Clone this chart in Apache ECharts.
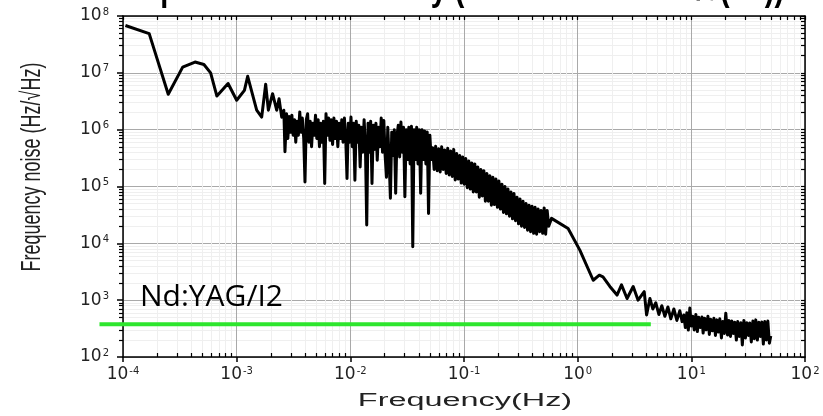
<!DOCTYPE html>
<html>
<head>
<meta charset="utf-8">
<script src="https://cdn.jsdelivr.net/npm/echarts/dist/echarts.min.js"></script>
<style>
  html, body { margin: 0; padding: 0; background: #fff; }
  #main { width: 823px; height: 416px; }
</style>
</head>
<body>
<div id="main"></div>
<script>
// frequency (Hz) and noise (Hz/sqrt(Hz))
var freq = [
  // low end, smooth
  1.05e-4, 1.7e-4, 2.5e-4, 3.35e-4, 4.3e-4, 5.15e-4, 5.9e-4, 6.7e-4, 8.4e-4, 1.0e-3,
  1.17e-3, 1.25e-3, 1.5e-3, 1.66e-3, 1.8e-3, 1.9e-3, 2.07e-3, 2.25e-3, 2.36e-3, 2.49e-3,
  2.6e-3, 2.66e-3,
  // dense noisy part
  2.75e-3, 2.82e-3, 2.90e-3, 2.98e-3, 3.06e-3, 3.14e-3, 3.23e-3, 3.31e-3, 3.40e-3, 3.49e-3,
  3.59e-3, 3.68e-3, 3.78e-3, 3.89e-3, 3.99e-3, 4.10e-3, 4.21e-3, 4.32e-3, 4.44e-3, 4.56e-3,
  4.68e-3, 4.81e-3, 4.94e-3, 5.07e-3, 5.21e-3, 5.35e-3, 5.49e-3, 5.64e-3, 5.79e-3, 5.95e-3,
  6.11e-3, 6.27e-3, 6.44e-3, 6.62e-3, 6.79e-3, 6.98e-3, 7.17e-3, 7.36e-3, 7.56e-3, 7.76e-3,
  7.97e-3, 8.18e-3, 8.41e-3, 8.63e-3, 8.87e-3, 9.11e-3, 9.35e-3, 9.60e-3, 9.86e-3,
  1.013e-2, 1.04e-2, 1.068e-2, 1.097e-2, 1.127e-2, 1.157e-2, 1.188e-2, 1.22e-2, 1.253e-2, 1.287e-2,
  1.322e-2, 1.358e-2, 1.394e-2, 1.432e-2, 1.47e-2, 1.51e-2, 1.551e-2, 1.593e-2, 1.636e-2, 1.68e-2,
  1.725e-2, 1.772e-2, 1.82e-2, 1.869e-2, 1.919e-2, 1.971e-2, 2.024e-2, 2.079e-2, 2.135e-2, 2.193e-2,
  2.252e-2, 2.313e-2, 2.375e-2, 2.439e-2, 2.505e-2, 2.573e-2, 2.642e-2, 2.714e-2, 2.787e-2, 2.862e-2,
  2.939e-2, 3.019e-2, 3.1e-2, 3.184e-2, 3.27e-2, 3.358e-2, 3.449e-2, 3.542e-2, 3.637e-2, 3.735e-2,
  3.836e-2, 3.94e-2, 4.046e-2, 4.155e-2, 4.267e-2, 4.382e-2, 4.501e-2, 4.622e-2, 4.747e-2, 4.875e-2,
  5.006e-2, 5.141e-2,
  // thick descending band
  5.30e-2, 5.46e-2, 5.63e-2, 5.81e-2, 5.99e-2, 6.17e-2, 6.36e-2, 6.56e-2, 6.76e-2, 6.97e-2,
  7.19e-2, 7.41e-2, 7.64e-2, 7.88e-2, 8.12e-2, 8.37e-2, 8.63e-2, 8.90e-2, 9.18e-2, 9.46e-2,
  9.75e-2, 0.1005, 0.1036, 0.1069, 0.1102, 0.1136, 0.1171, 0.1207, 0.1245, 0.1283,
  0.1323, 0.1364, 0.1407, 0.145, 0.1495, 0.1542, 0.1589, 0.1639, 0.1689, 0.1742,
  0.1796, 0.1851, 0.1909, 0.1968, 0.2029, 0.2092, 0.2157, 0.2224, 0.2293, 0.2364,
  0.2437, 0.2513, 0.2591, 0.2671, 0.2754, 0.2839, 0.2927, 0.3018, 0.3112, 0.3208,
  0.3308, 0.341, 0.3516, 0.3625, 0.3737, 0.3853, 0.3973, 0.4096, 0.4223, 0.4354,
  0.4489, 0.4628, 0.4771, 0.4919, 0.5072, 0.5229, 0.5391, 0.5558,
  // roll-off around 1 Hz
  0.589, 0.824, 1.045, 1.37, 1.55, 1.67, 1.92, 2.22, 2.43, 2.72,
  3.08, 3.4, 3.85, 4.04, 4.32, 4.58, 4.87, 5.18, 5.5, 5.85,
  6.22, 6.6, 7.02, 7.46, 7.92, 8.3,
  // high-frequency floor
  8.59, 8.86, 9.13, 9.41, 9.70, 10.0, 10.3, 10.6, 10.96, 11.3,
  11.6, 12.0, 12.4, 12.7, 13.1, 13.5, 14.0, 14.4, 14.8, 15.3,
  15.8, 16.3, 16.8, 17.3, 17.8, 18.4, 18.9, 19.5, 20.1, 20.8,
  21.4, 22.1, 22.7, 23.4, 24.1, 24.9, 25.6, 26.4, 27.3, 28.1,
  29.0, 29.9, 30.8, 31.8, 32.7, 33.7, 34.8, 35.8, 36.9, 38.1,
  39.3, 40.5, 41.7, 43.0, 44.3, 45.7, 47.1, 48.6, 50.0
];
var noise = [
  6.8e7, 4.9e7, 4.2e6, 1.26e7, 1.55e7, 1.4e7, 1.0e7, 3.9e6, 6.5e6, 3.3e6,
  4.9e6, 8.7e6, 2.2e6, 1.66e6, 6.3e6, 2.2e6, 4.3e6, 2.2e6, 3.5e6, 1.66e6,
  2.2e6, 4.1e5,

  1.9e6, 7e5, 1.7e6, 9e5, 1.8e6, 8e5, 1.5e6, 6e5, 1.4e6, 8e5,
  2.05e6, 9e5, 1.6e6, 7e5, 1.2e5, 1.5e6, 1.9e6, 6e5, 1.4e6, 5e5,
  1.3e6, 8e5, 1.8e6, 7e5, 1.5e6, 5e5, 1.3e6, 6e5, 1.4e6, 1.13e5,
  1.9e6, 8e5, 1.6e6, 6.5e5, 1.5e6, 5.5e5, 1.6e6, 7e5, 1.4e6, 5e5,
  1.3e6, 7e5, 1.5e6, 6e5, 1.6e6, 7e5, 1.38e5, 1.3e6, 6e5,
  1.67e6, 5e5, 1.3e6, 1.29e5, 1.4e6, 6e5, 1.2e6, 2.2e5, 1.1e6, 4e5,
  1.5e6, 5e5, 2.1e4, 1.3e6, 4e5, 1.4e6, 1.13e5, 1.2e6, 4.5e5, 1.3e6,
  2.9e5, 1.1e6, 5e5, 1.6e6, 4e5, 1.45e6, 3.5e5, 1.45e5, 1.1e6, 3e5,
  6.2e4, 9e5, 3.5e5, 1.0e6, 7.6e4, 8e5, 1.2e6, 3.3e5, 1.36e6, 4e5,
  1.1e6, 6.6e4, 1.0e6, 3e5, 1.1e6, 2.5e5, 1.15e6, 8.7e3, 1.0e6, 3e5,
  1.1e6, 2.5e5, 1.0e6, 7.6e4, 1.0e6, 3e5, 9.5e5, 2.5e5, 9.1e5, 3.35e4,
  8e5, 3e5,

  4.8e5, 2.0e5, 5.1e5, 1.9e5, 4.6e5, 1.8e5, 5.0e5, 2.0e5, 4.4e5, 1.7e5,
  4.7e5, 1.6e5, 4.2e5, 1.5e5, 4.5e5, 1.3e5, 3.8e5, 1.35e5, 3.5e5, 1.15e5,
  3.3e5, 1.1e5, 3.1e5, 9.5e4, 2.8e5, 9.0e4, 2.6e5, 8.0e4, 2.5e5, 8.0e4,
  2.2e5, 6.5e4, 2.0e5, 6.8e4, 1.9e5, 5.5e4, 1.7e5, 5.5e4, 1.55e5, 4.7e4,
  1.45e5, 4.8e4, 1.35e5, 4.3e4, 1.25e5, 4.0e4, 1.1e5, 3.5e4, 1.0e5, 3.3e4,
  9.0e4, 3.0e4, 8.0e4, 2.7e4, 7.5e4, 2.5e4, 6.5e4, 2.2e4, 6.0e4, 2.0e4,
  5.5e4, 1.9e4, 5.0e4, 1.7e4, 4.7e4, 1.6e4, 4.5e4, 1.5e4, 4.3e4, 1.45e4,
  4.0e4, 1.6e4, 3.8e4, 1.5e4, 4.2e4, 1.45e4, 3.8e4, 2.0e4,

  2.75e4, 1.82e4, 7.6e3, 2.24e3, 2.75e3, 2.57e3, 1.74e3, 1.23e3, 1.86e3, 1.07e3,
  1.74e3, 1.0e3, 1.41e3, 550, 1070, 700, 900, 560, 800, 520,
  760, 470, 700, 440, 650, 420,

  547, 330, 600, 298, 726, 350, 520, 300, 560, 280,
  500, 330, 505, 264, 480, 300, 520, 250, 460, 290,
  480, 240, 450, 275, 470, 216, 420, 260, 590, 244,
  440, 230, 430, 260, 410, 199, 420, 230, 400, 163,
  440, 216, 400, 240, 396, 184, 430, 210, 450, 199,
  410, 230, 412, 169, 420, 200, 430, 175, 234
];

// Nd:YAG/I2 reference level
var refFreq = [6.2e-5, 4.4];
var refLevel = [376, 376];

// axis ticks (decades) and minor ticks
var xTicks = [1e-4, 1e-3, 1e-2, 1e-1, 1, 10, 100];
var yTicks = [1e2, 1e3, 1e4, 1e5, 1e6, 1e7, 1e8];

function minors(ticks) {
  var out = [];
  for (var i = 0; i < ticks.length - 1; i++) {
    for (var k = 2; k <= 9; k++) out.push(ticks[i] * k);
  }
  return out;
}
var xMinor = minors(xTicks);
var yMinor = minors(yTicks);

var chart = echarts.init(document.getElementById('main'));

var labelRich = {
  b: { fontFamily: 'DejaVu Sans', fontSize: 17, color: '#222' },
  s: { fontFamily: 'DejaVu Sans', fontSize: 10, color: '#222', verticalAlign: 'top', padding: [0, 0, 8, 1] }
};
function powLabel(v) {
  return '{b|10}{s|' + Math.round(Math.log10(v)) + '}';
}

var frameLine = { color: '#000', width: 1.5 };
var tickLine = { color: '#000', width: 1.2 };

var option = {
  animation: false,
  backgroundColor: '#fff',
  grid: [
    { left: 123, right: 18, top: 16, bottom: 59 },
    // same plot box, but its x axis starts left of the frame so the green line can start there
    { left: 99, right: 18, top: 16, bottom: 59 }
  ],
  xAxis: [
    {
      type: 'log', logBase: 10, min: 1e-4, max: 100, position: 'bottom',
      axisLine: { onZero: false, lineStyle: frameLine },
      axisTick: { customValues: xTicks, length: 5, lineStyle: frameLine },
      axisLabel: { customValues: xTicks, formatter: powLabel, rich: labelRich, margin: 9 },
      splitLine: { show: true, lineStyle: { color: '#a9a9a9', width: 1 } }
    },
    {
      type: 'log', logBase: 10, min: 1e-4, max: 100, position: 'bottom',
      axisLine: { show: false, onZero: false },
      axisTick: { inside: true, customValues: xMinor, length: 4, lineStyle: tickLine },
      axisLabel: { show: false },
      splitLine: { show: true, lineStyle: { color: '#efefef', width: 1 } }
    },
    {
      type: 'log', logBase: 10, min: 1e-4, max: 100, position: 'top',
      axisLine: { onZero: false, lineStyle: frameLine },
      axisTick: { inside: true, customValues: xTicks.concat(xMinor), length: 4, lineStyle: tickLine },
      axisLabel: { show: false },
      splitLine: { show: false }
    },
    {
      gridIndex: 1, type: 'log', logBase: 10, min: 6.14e-5, max: 100, show: false
    }
  ],
  yAxis: [
    {
      type: 'log', logBase: 10, min: 1e2, max: 1e8, position: 'left',
      axisLine: { onZero: false, lineStyle: frameLine },
      axisTick: { customValues: yTicks, length: 6, lineStyle: frameLine },
      axisLabel: { customValues: yTicks, formatter: powLabel, rich: labelRich, margin: 14 },
      splitLine: { show: true, lineStyle: { color: '#a9a9a9', width: 1 } }
    },
    {
      type: 'log', logBase: 10, min: 1e2, max: 1e8, position: 'left',
      axisLine: { show: false, onZero: false },
      axisTick: { customValues: yMinor, length: 4, lineStyle: tickLine },
      axisLabel: { show: false },
      splitLine: { show: true, lineStyle: { color: '#efefef', width: 1 } }
    },
    {
      type: 'log', logBase: 10, min: 1e2, max: 1e8, position: 'right',
      axisLine: { onZero: false, lineStyle: frameLine },
      axisTick: { inside: true, customValues: yTicks.concat(yMinor), length: 4, lineStyle: tickLine },
      axisLabel: { show: false },
      splitLine: { show: false }
    },
    {
      gridIndex: 1, type: 'log', logBase: 10, min: 1e2, max: 1e8, show: false
    }
  ],
  graphic: [
    {
      type: 'text', x: 141, y: 8, scaleX: 0.8, z: 100, silent: true,
      style: { text: 'Spectral noise density (in the units of Hz/√(Hz))', font: 'bold 36px "Liberation Sans"', fill: '#000', align: 'left', verticalAlign: 'bottom' }
    },
    {
      type: 'text', x: 33, y: 167, rotation: Math.PI / 2, scaleY: 1.5, z: 100, silent: true,
      style: { text: 'Frequency noise (Hz/√Hz)', font: '18px "Liberation Sans"', fill: '#222', align: 'center', verticalAlign: 'middle' }
    },
    {
      type: 'text', x: 465, y: 401, scaleX: 1.8, z: 100, silent: true,
      style: { text: 'Frequency(Hz)', font: '18px "Liberation Sans"', fill: '#222', align: 'center', verticalAlign: 'middle' }
    },
    {
      type: 'text', x: 140, y: 312, z: 100, silent: true,
      style: { text: 'Nd:YAG/I2', font: '30px "Open Sans"', fill: '#000', stroke: null, lineWidth: 0, align: 'left', verticalAlign: 'bottom' }
    }
  ],
  series: [
    {
      name: 'noise', type: 'line', xAxisIndex: 0, yAxisIndex: 0,
      showSymbol: false, symbol: 'none',
      lineStyle: { color: '#000', width: 3, join: 'round' },
      data: freq.map(function (f, i) { return [f, noise[i]]; })
    },
    {
      name: 'Nd:YAG/I2', type: 'line', xAxisIndex: 3, yAxisIndex: 3,
      symbol: 'none', clip: false,
      lineStyle: { color: '#2ee62e', width: 4 },
      data: refFreq.map(function (f, i) { return [f, refLevel[i]]; })
    }
  ]
};
chart.setOption(option);
</script>
</body>
</html>
